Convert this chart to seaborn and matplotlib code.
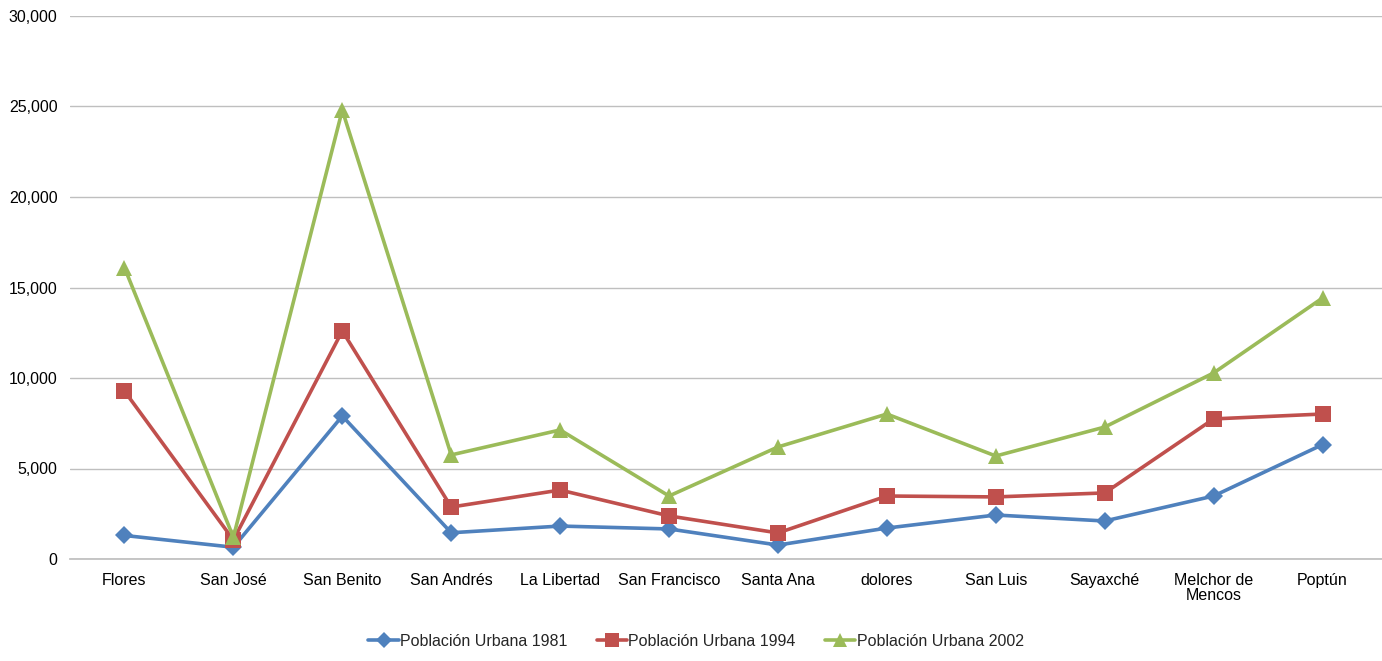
import matplotlib
matplotlib.use("Agg")
import matplotlib.pyplot as plt
import seaborn as sns
import pandas as pd
from matplotlib.ticker import FuncFormatter

categories = ["Flores", "San José", "San Benito", "San Andrés", "La Libertad",
              "San Francisco", "Santa Ana", "dolores", "San Luis", "Sayaxché",
              "Melchor de\nMencos", "Poptún"]
pop_1981 = [1300, 650, 7900, 1450, 1820, 1660, 770, 1710, 2430, 2100, 3480, 6320]
pop_1994 = [9280, 1050, 12600, 2870, 3810, 2380, 1440, 3480, 3430, 3650, 7740, 8010]
pop_2002 = [16100, 1200, 24800, 5750, 7130, 3480, 6190, 8010, 5690, 7290, 10280, 14420]
series_names = ["Población Urbana 1981", "Población Urbana 1994", "Población Urbana 2002"]
y_ticks = [0, 5000, 10000, 15000, 20000, 25000, 30000]

rows = []
for name, vals in zip(series_names, [pop_1981, pop_1994, pop_2002]):
    for i, v in enumerate(vals):
        rows.append({"pos": i, "value": v, "serie": name})
df = pd.DataFrame(rows)

sns.set_theme(style="white")
plt.rcParams['font.family'] = ['Liberation Sans', 'DejaVu Sans']

fig = plt.figure(figsize=(13.82, 6.61), dpi=100)
L, R = 70, 1382
ax = fig.add_axes([L/1382, 1-559/661, (R-L)/1382, (559-16)/661])

palette = {series_names[0]: "#4F81BD", series_names[1]: "#C0504D", series_names[2]: "#9BBB59"}
markers = {series_names[0]: "D", series_names[1]: "s", series_names[2]: "^"}
sizes_m = {series_names[0]: 9.5, series_names[1]: 11.5, series_names[2]: 12}

for name in series_names:
    sub = df[df["serie"] == name]
    sns.lineplot(data=sub, x="pos", y="value", ax=ax, color=palette[name],
                 marker=markers[name], markersize=sizes_m[name], linewidth=2.6,
                 markeredgewidth=0, label=name, zorder=3)

step = (1377 - 70) / len(categories)
ax.set_xlim(-0.5, len(categories) - 0.5 + 5 / step)
ax.set_ylim(0, 30000)
ax.set_yticks(y_ticks)
ax.yaxis.set_major_formatter(FuncFormatter(lambda v, p: f"{int(v):,}"))
ax.set_xticks(range(len(categories)))
ax.set_xticklabels(categories, linespacing=1.0)
ax.grid(axis="y", color="#BFBFBF", linewidth=1)
ax.set_axisbelow(True)
for s in ["top", "right", "left"]:
    ax.spines[s].set_visible(False)
ax.spines["bottom"].set_color("#BFBFBF")
ax.tick_params(axis="both", labelsize=11.5, colors="#000000", length=0)
ax.tick_params(axis="x", pad=10)
ax.tick_params(axis="y", pad=9)
ax.set_xlabel("")
ax.set_ylabel("")

ax.legend(loc="center", bbox_to_anchor=((696 - L)/(R-L), (559-641)/(559-16)), ncol=3,
          frameon=False, fontsize=11.5, handlelength=1.9, columnspacing=1.8,
          handletextpad=0.1, markerscale=0.85)

fig.savefig("out.png", dpi=100)
